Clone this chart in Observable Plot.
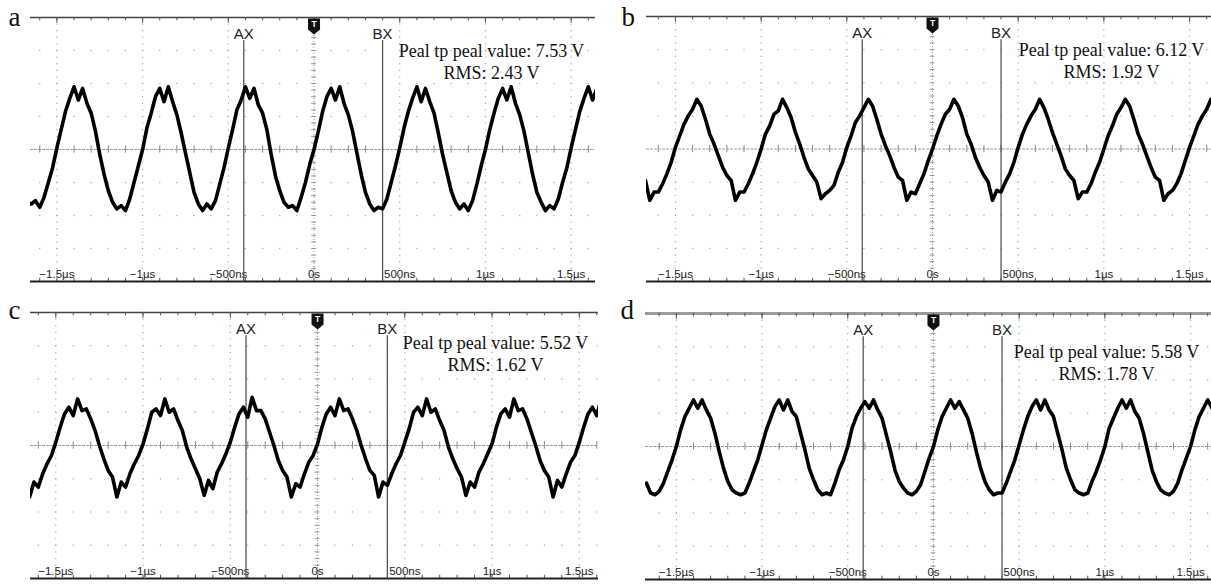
<!DOCTYPE html>
<html><head><meta charset="utf-8">
<script src="https://cdn.jsdelivr.net/npm/d3@7"></script>
<script src="https://cdn.jsdelivr.net/npm/@observablehq/plot@0.6"></script>
<style>
body{margin:0;background:#fff;}
#root{position:relative;width:1211px;height:585px;overflow:hidden;background:#fff;}
#root > svg{position:absolute;overflow:visible;}
</style></head><body><div id="root"></div>
<script>
// sampling instants of the scope trace (ns)
const sampleTimes = d3.range(-1675, 1676, 25);

// trace values (V), one array per panel
const voltsA = [
 -3.2,-3.3,-3.1,-3.5,-2.9,-2.0,-1.1,
 0.1,1.2,2.3,3.1,3.8,3.0,3.7,2.8,2.2,1.1,-0.3,-1.5,-2.5,-3.2,-3.6,-3.4,-3.7,-3.0,-2.0,-1.0,
 0.0,1.3,2.2,3.2,3.7,2.9,3.8,2.9,2.1,1.0,-0.2,-1.4,-2.6,-3.3,-3.7,-3.3,-3.6,-3.1,-2.1,-1.1,
 0.1,1.2,2.4,3.0,3.8,3.1,3.7,2.7,2.2,1.2,-0.3,-1.6,-2.5,-3.2,-3.5,-3.4,-3.7,-2.9,-2.0,-0.9,
 0.0,1.1,2.3,3.2,3.7,3.0,3.8,2.8,2.1,1.1,-0.2,-1.5,-2.6,-3.3,-3.7,-3.5,-3.6,-3.0,-2.0,-1.0,
 0.1,1.3,2.3,3.1,3.8,2.9,3.7,2.9,2.2,1.0,-0.3,-1.4,-2.5,-3.2,-3.6,-3.3,-3.7,-3.1,-2.1,-1.0,
 0.0,1.2,2.2,3.1,3.7,3.0,3.8,2.8,2.1,1.1,-0.2,-1.5,-2.6,-3.2,-3.7,-3.4,-3.6,-3.0,-2.0,-1.1,
 0.1,1.2,2.3,3.1,3.8,3.0,3.7,2.8
];
const voltsB = [
 -1.9,-3.1,-2.6,-2.6,-2.1,-1.5,-0.8,
 0.1,0.8,1.5,2.0,2.4,3.0,2.6,1.8,0.9,0.3,-0.4,-1.1,-1.6,-1.9,-3.1,-2.6,-2.6,-2.1,-1.5,-0.8,
 0.0,0.9,1.4,2.1,2.3,3.0,2.5,1.9,1.0,0.3,-0.5,-1.2,-1.6,-2.0,-3.0,-2.7,-2.5,-2.2,-1.4,-0.8,
 0.1,0.8,1.6,2.0,2.5,3.0,2.6,1.8,0.9,0.2,-0.4,-1.1,-1.7,-1.9,-3.1,-2.6,-2.7,-2.1,-1.5,-0.7,
 0.0,0.8,1.5,2.1,2.4,3.0,2.6,1.9,0.9,0.3,-0.5,-1.1,-1.6,-2.0,-3.1,-2.5,-2.6,-2.0,-1.5,-0.8,
 0.1,0.9,1.5,2.0,2.4,3.0,2.5,1.8,1.0,0.3,-0.4,-1.2,-1.6,-1.9,-3.0,-2.6,-2.6,-2.1,-1.4,-0.8,
 0.0,0.8,1.4,2.1,2.5,3.0,2.6,1.8,0.9,0.3,-0.4,-1.1,-1.7,-1.9,-3.1,-2.7,-2.5,-2.1,-1.5,-0.7,
 0.1,0.8,1.5,2.0,2.4,3.0,2.6,1.8
];
const voltsC = [
 -1.9,-3.1,-2.2,-2.5,-1.7,-1.1,-0.6,
 0.2,1.1,1.9,2.3,1.8,2.8,2.1,2.2,1.6,0.9,0.0,-0.8,-1.5,-1.9,-3.1,-2.2,-2.5,-1.7,-1.1,-0.6,
 0.1,1.0,2.0,2.2,1.8,2.8,2.0,2.2,1.5,0.9,-0.1,-0.8,-1.4,-2.0,-3.0,-2.1,-2.6,-1.6,-1.1,-0.5,
 0.2,1.1,1.9,2.3,1.7,2.9,2.1,2.1,1.6,0.8,0.0,-0.9,-1.5,-1.9,-3.1,-2.3,-2.5,-1.7,-1.0,-0.6,
 0.1,1.1,1.9,2.3,1.8,2.8,2.1,2.2,1.6,0.9,0.0,-0.8,-1.5,-1.8,-3.1,-2.2,-2.4,-1.7,-1.1,-0.6,
 0.2,1.0,2.0,2.3,1.8,2.8,2.0,2.2,1.5,0.9,-0.1,-0.8,-1.4,-1.9,-3.0,-2.2,-2.5,-1.6,-1.1,-0.5,
 0.1,1.1,1.9,2.2,1.7,2.8,2.1,2.2,1.6,0.8,0.0,-0.9,-1.5,-1.9,-3.1,-2.1,-2.5,-1.7,-1.0,-0.6,
 0.2,1.1,1.9,2.3,1.8,2.8,2.1,2.2
];
const voltsD = [
 -2.2,-2.8,-2.9,-2.7,-2.2,-1.5,-0.8,
 0.0,1.0,1.8,2.3,2.8,2.3,2.8,2.2,1.7,0.8,-0.3,-1.3,-2.1,-2.6,-2.8,-2.9,-2.8,-2.2,-1.5,-0.8,
 0.1,1.0,1.7,2.4,2.8,2.2,2.8,2.1,1.8,0.8,-0.2,-1.3,-2.0,-2.6,-2.9,-2.8,-2.9,-2.2,-1.4,-0.8,
 0.0,1.1,1.8,2.3,2.7,2.3,2.8,2.2,1.7,0.7,-0.3,-1.4,-2.1,-2.5,-2.8,-2.9,-2.7,-2.3,-1.5,-0.7,
 0.0,1.0,1.8,2.3,2.8,2.3,2.7,2.2,1.7,0.8,-0.3,-1.3,-2.1,-2.6,-2.9,-2.8,-2.8,-2.2,-1.5,-0.8,
 0.1,1.0,1.8,2.4,2.8,2.2,2.8,2.2,1.8,0.8,-0.2,-1.3,-2.0,-2.6,-2.8,-2.9,-2.8,-2.1,-1.5,-0.8,
 0.0,1.1,1.7,2.3,2.8,2.3,2.8,2.1,1.7,0.8,-0.3,-1.4,-2.1,-2.6,-2.8,-2.9,-2.7,-2.2,-1.4,-0.7,
 0.0,1.0,1.8,2.3,2.8,2.3,2.8,2.2
];

const panelLetters = ["a", "b", "c", "d"];
const peakToPeak = ["7.53", "6.12", "5.52", "5.58"];
const rmsValues = ["2.43", "1.92", "1.62", "1.78"];
const majorTimes = [-1500, -1000, -500, 0, 500, 1000, 1500];
const tickLabels = ["\u22121.5\u00b5s", "\u22121\u00b5s", "\u2212500ns", "0s", "500ns", "1\u00b5s", "1.5\u00b5s"];
const cursorNames = ["AX", "BX"];
const cursorTimes = [-410, 400];

// layout (page px) and time window of each screenshot
const layout = [
  {left: 0,   top: 0,   width: 600, height: 290, ml: 30, mr: 5, mt: 17, mb: 9, dom: [-1654, 1642], letterDx: -22, letterDy: 8,  annX: 491, annY: [56, 78], topGray: false},
  {left: 600, top: 0,   width: 611, height: 290, ml: 46, mr: 0, mt: 16, mb: 9, dom: [-1669, 1628], letterDx: -25, letterDy: 9,  annX: 511, annY: [55, 77], topGray: false},
  {left: 0,   top: 295, width: 600, height: 290, ml: 30, mr: 2, mt: 17, mb: 7, dom: [-1645, 1610], letterDx: -22, letterDy: 6,  annX: 495, annY: [53, 75], topGray: false},
  {left: 600, top: 295, width: 611, height: 290, ml: 45, mr: 0, mt: 18, mb: 6, dom: [-1680, 1622], letterDx: -25, letterDy: 5,  annX: 506, annY: [62, 84], topGray: true}
];
const allVolts = [voltsA, voltsB, voltsC, voltsD];

const minorTimes = d3.range(-1600, 1601, 100);
const majorVolts = [-6, -4, -2, 2, 4, 6];
const minorVolts = d3.range(-8, 8.001, 0.4);
const gridDots = [];
for (const t of majorTimes) for (const v of minorVolts) gridDots.push({t, v});
for (const t of minorTimes) for (const v of majorVolts) gridDots.push({t, v});

const flag = {draw(ctx) {
  ctx.moveTo(-6, -8); ctx.lineTo(6, -8); ctx.lineTo(6, 3);
  ctx.lineTo(0, 8); ctx.lineTo(-6, 3); ctx.closePath();
}};

const sans = "'Liberation Sans', Arial, sans-serif";
const serif = "'Liberation Serif', 'Times New Roman', serif";
const root = document.getElementById("root");

layout.forEach((L, k) => {
  const trace = sampleTimes.map((t, i) => ({t, v: allVolts[k][i]}));
  const cursors = cursorNames.map((name, i) => ({name, t: cursorTimes[i]}));
  const chart = Plot.plot({
    width: L.width, height: L.height,
    marginLeft: L.ml, marginRight: L.mr, marginTop: L.mt, marginBottom: L.mb,
    x: {domain: L.dom, axis: null},
    y: {domain: [-8, 8], axis: null},
    style: {background: "transparent", overflow: "visible"},
    marks: [
      Plot.dot(gridDots, {x: "t", y: "v", r: 0.7, fill: "#a8a8a8", stroke: "none"}),
      Plot.ruleY([0], {stroke: "#9a9a9a", strokeWidth: 1, strokeDasharray: "3,1"}),
      Plot.ruleX(minorTimes, {x: d => d, y1: -0.22, y2: 0.22, stroke: "#888", strokeWidth: 1}),
      Plot.ruleX([0], {stroke: "#999", strokeWidth: 1, strokeDasharray: "1,2"}),
      Plot.ruleY(minorVolts, {y: d => d, x1: -14, x2: 14, stroke: "#999", strokeWidth: 1}),
      // top border with ticks
      Plot.ruleY([8], {stroke: L.topGray ? "#9a9a9a" : "#444", strokeWidth: L.topGray ? 3 : 1.3}),
      Plot.ruleX(minorTimes, {x: d => d, y1: 8, y2: 7.8, stroke: "#555", strokeWidth: 1}),
      Plot.ruleX(majorTimes, {x: d => d, y1: 8, y2: 7.65, stroke: "#555", strokeWidth: 1}),
      // bottom axis line with ticks
      Plot.ruleX(minorTimes, {x: d => d, y1: -8, y2: -7.8, stroke: "#555", strokeWidth: 1}),
      Plot.ruleY([-8], {stroke: "#222", strokeWidth: 2}),
      Plot.text(majorTimes, {x: d => d, y: () => -8, dy: -4, text: (d, i) => tickLabels[i],
        lineAnchor: "bottom", textAnchor: "middle", fontSize: 11.5, fontFamily: sans, fill: "#222"}),
      // cursors
      Plot.ruleX(cursors, {x: "t", y1: -8, y2: 6.6, stroke: "#555", strokeWidth: 1.3}),
      Plot.text(cursors, {x: "t", frameAnchor: "top", dy: 21, text: "name", lineAnchor: "bottom",
        fontSize: 15, fontFamily: sans, fill: "#222"}),
      // trigger marker
      Plot.dot([0], {x: d => d, frameAnchor: "top", dy: 9, symbol: flag, fill: "#111", stroke: "none"}),
      Plot.text(["T"], {x: () => 0, frameAnchor: "top", dy: 7, text: d => d, lineAnchor: "middle",
        fontSize: 8.5, fontWeight: "bold", fontFamily: sans, fill: "white"}),
      // trace
      Plot.line(trace, {x: "t", y: "v", stroke: "#000", strokeWidth: 3.6, strokeLinejoin: "round", clip: true}),
      // annotations
      Plot.text([`Peal tp peal value: ${peakToPeak[k]} V`], {frameAnchor: "top-left", dx: L.annX - L.ml, dy: L.annY[0] - L.mt,
        text: d => d, textAnchor: "middle", lineAnchor: "bottom", fontSize: 18, fontFamily: serif, fill: "#111"}),
      Plot.text([`RMS: ${rmsValues[k]} V`], {frameAnchor: "top-left", dx: L.annX - L.ml, dy: L.annY[1] - L.mt,
        text: d => d, textAnchor: "middle", lineAnchor: "bottom", fontSize: 18, fontFamily: serif, fill: "#111"}),
      Plot.text([panelLetters[k]], {frameAnchor: "top-left", dx: L.letterDx, dy: L.letterDy, text: d => d,
        textAnchor: "start", lineAnchor: "bottom", fontSize: 27, fontFamily: serif, fill: "#111"})
    ]
  });
  chart.style.left = L.left + "px";
  chart.style.top = L.top + "px";
  root.appendChild(chart);
});
</script></body></html>
